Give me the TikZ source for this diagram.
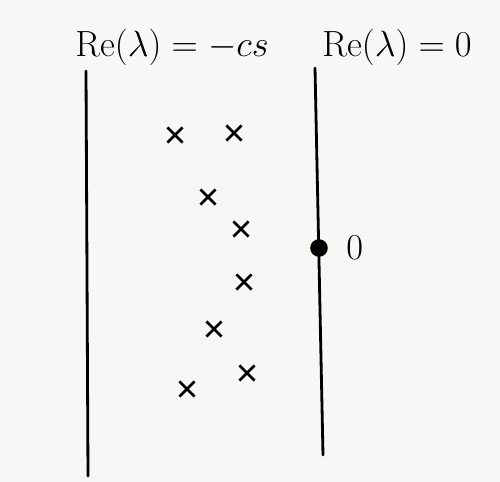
\documentclass[tikz,border=0pt]{standalone}
\usepackage{amsmath}
\usepackage{xcolor}
\usepackage{tikz}
\usetikzlibrary{shapes.misc}

\definecolor{paper}{RGB}{247,247,245}

\tikzset{
    axis/.style={line width=1.6pt, line cap=round},
    pole/.style={cross out, draw, line width=1.6pt, minimum size=7pt, inner sep=0pt},
    root/.style={circle, fill, inner sep=0pt, minimum size=10pt},
    tag/.style={font=\fontsize{21}{25}\selectfont}
}

\begin{document}
\begin{tikzpicture}[x={(0.02cm,0)}, y={(0,-0.02cm)}]
        \fill[paper] (0, 0) rectangle (500, 482);
        \useasboundingbox (0, 0) rectangle (500, 482);

        % the two vertical lines
        \coordinate (lt) at (86, 71);
        \coordinate (lb) at (88, 476);
        \coordinate (rt) at (315, 68);
        \coordinate (rb) at (323, 455);
        \draw[axis] (lt) -- (lb);
        \draw[axis] (rt) -- (rb);

        \node[tag] (lname) at (172, 47) {$\mathrm{Re}(\lambda) = -cs$};
        \node[tag] (rname) at (397, 47) {$\mathrm{Re}(\lambda) = 0$};

        % eigenvalues
        \foreach \px/\py [count=\i] in {175/135, 234/133, 208/197, 241/229, 244/282, 214/329, 247/373, 187/389}
            \node[pole] (p\i) at (\px, \py) {};

        \node[root] (zero) at (319, 248) {};
        \node[tag, right=12pt] (zname) at (zero) {$0$};

    \end{tikzpicture}
\end{document}
